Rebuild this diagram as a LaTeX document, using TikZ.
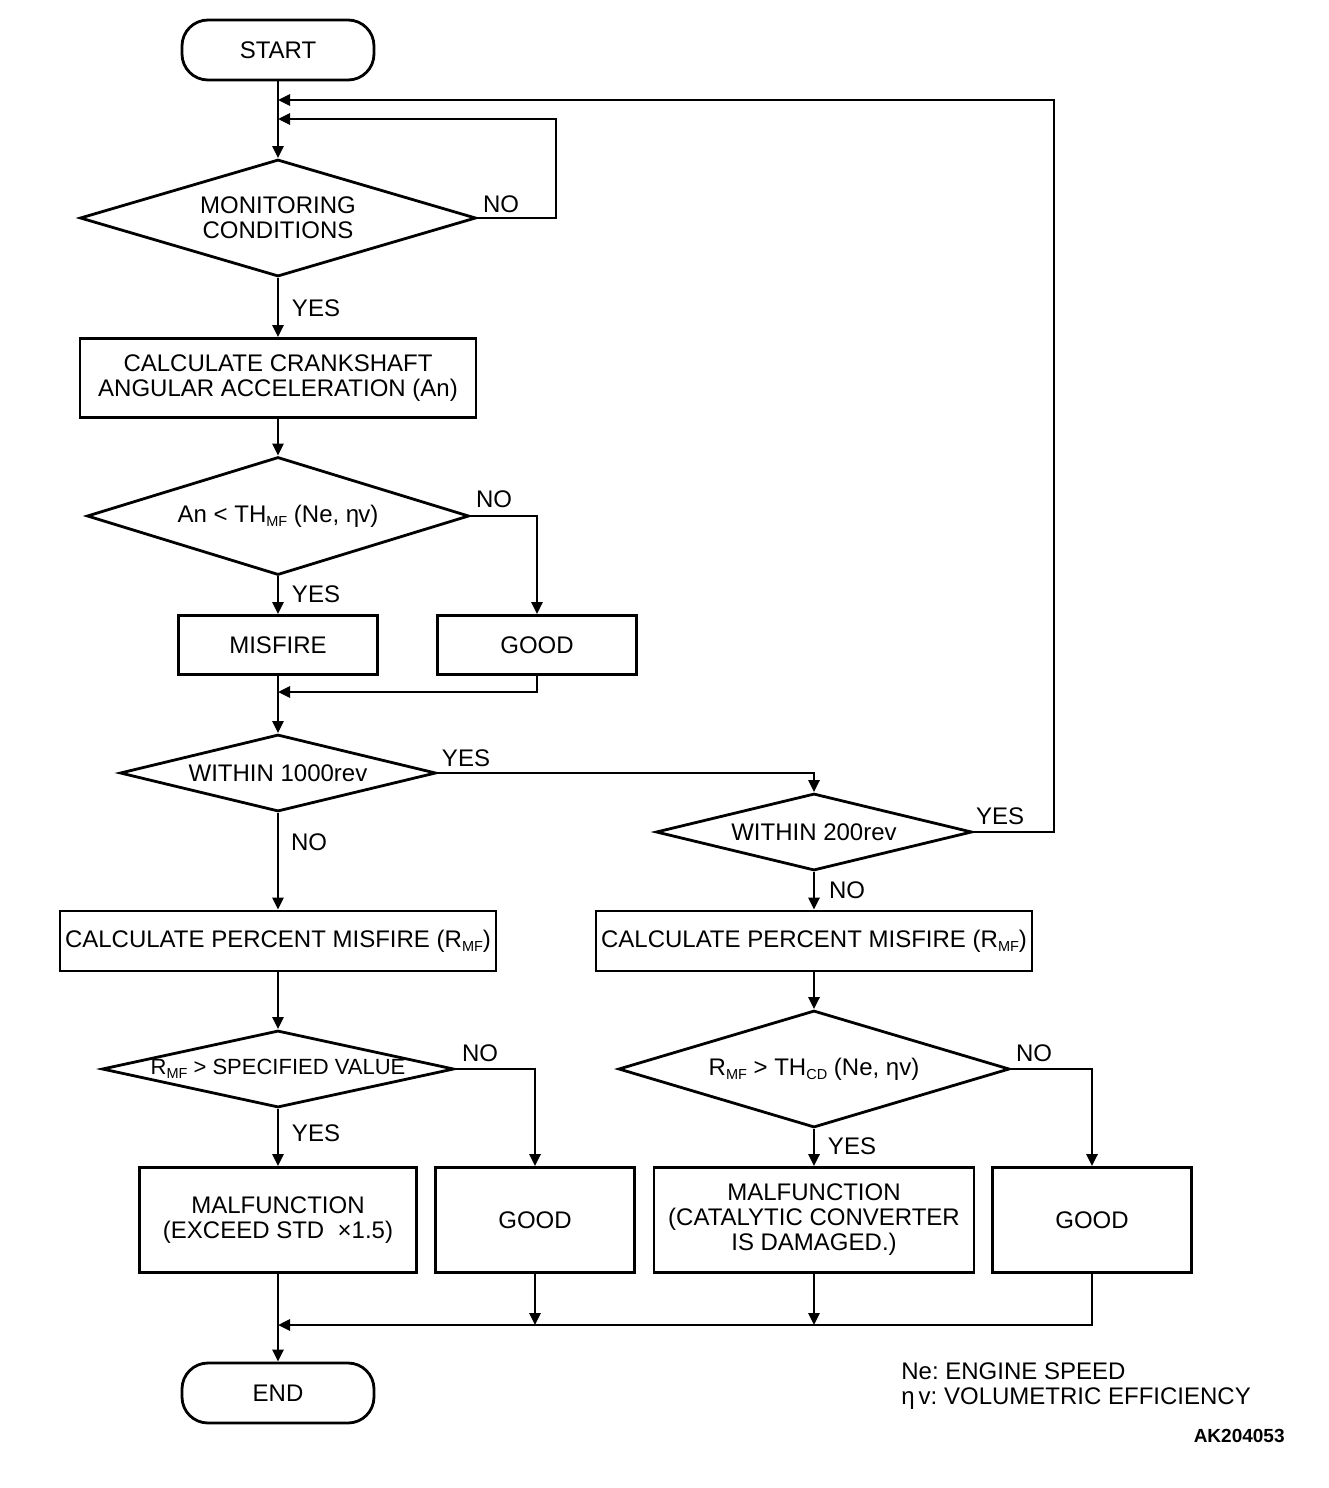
\documentclass[tikz,border=0pt]{standalone}
\usepackage{fontspec}
\setmainfont{Liberation Sans}
\usetikzlibrary{shapes.geometric,arrows.meta}
\newcommand{\lowtxt}[1]{\raisebox{-0.3ex}{\fontsize{14.5}{14.5}\selectfont #1}}
\tikzset{tm/.style = {rectangle, rounded corners=26pt, minimum width=192pt, minimum height=60pt, inner sep=0pt, draw},
           pr/.style = {rectangle, inner sep=0pt, align=center, draw},
           dc/.style = {diamond, inner sep=0pt, align=center, draw},
           lb/.style = {inner sep=0pt}}
\frenchspacing

\begin{document}
\begin{tikzpicture}[x=1pt, y=-1pt, line width=2.8pt, >={Triangle[length=12pt,width=11pt]},
                    font=\fontsize{24}{25}\selectfont]
    \useasboundingbox (0,0) rectangle (1328,1488);
    \node[tm] (start) at (278,50) {START};
    \node[dc, aspect=3.385, minimum width=396pt, minimum height=117pt] (mon) at (278,218) {MONITORING\\CONDITIONS};
    \node[pr, minimum width=396pt, minimum height=79pt] (calc) at (278,378) {CALCULATE CRANKSHAFT\\ANGULAR ACCELERATION (An)};
    \node[dc, aspect=3.237, minimum width=382pt, minimum height=118pt] (an) at (278,516) {An < TH\lowtxt{MF} (Ne, η\kern-1ptv)};
    \node[pr, minimum width=199pt, minimum height=59pt] (misf) at (278,645) {MISFIRE};
    \node[pr, minimum width=199pt, minimum height=59pt] (gooda) at (537,645) {GOOD};
    \node[dc, aspect=4.104, minimum width=316pt, minimum height=77pt] (wa) at (278,773) {WITHIN 1000rev};
    \node[dc, aspect=4.104, minimum width=316pt, minimum height=77pt] (wb) at (814,832) {WITHIN 200rev};
    \node[pr, minimum width=436pt, minimum height=60pt] (pcta) at (278,941) {CALCULATE PERCENT MISFIRE (R\lowtxt{MF})};
    \node[pr, minimum width=436pt, minimum height=60pt] (pctb) at (814,941) {CALCULATE PERCENT MISFIRE (R\lowtxt{MF})};
    \node[dc, aspect=4.571, inner xsep=-10pt, minimum width=352pt, minimum height=77pt,
          font=\fontsize{22}{24}\selectfont] (spec) at (278,1069) {R\lowtxt{MF} > SPECIFIED VALUE};
    \node[dc, aspect=3.342, minimum width=391pt, minimum height=117pt] (thcd) at (814,1069) {R\lowtxt{MF} > TH\lowtxt{CD} (Ne, ηv)};
    \node[pr, minimum width=277pt, minimum height=105pt] (malfa) at (278,1220) {MALFUNCTION\\(EXCEED STD~~×1.5)};
    \node[pr, minimum width=199pt, minimum height=105pt] (goodb) at (535,1220) {GOOD};
    \node[pr, minimum width=320pt, minimum height=105pt] (malfb) at (814,1220) {MALFUNCTION\\(CATALYTIC CONVERTER\\IS DAMAGED.)};
    \node[pr, minimum width=199pt, minimum height=105pt] (goodc) at (1092,1220) {GOOD};
    \node[tm] (end) at (278,1393) {END};
    % junctions
    \coordinate (ja) at (278,100); \coordinate (jb) at (278,119);
    \coordinate (jc) at (278,692); \coordinate (jd) at (278,1325);
    \coordinate (ra) at (1054,100); \coordinate (rb) at (556,119);
    \coordinate (ma) at (535,1325); \coordinate (mb) at (814,1325);
    % labels
    \node[lb] (no1) at (501,204) {NO};   \node[lb] (ye1) at (316,308) {YES};
    \node[lb] (no2) at (494,499) {NO};   \node[lb] (ye2) at (316,594) {YES};
    \node[lb] (ye3) at (466,758) {YES};  \node[lb] (ye4) at (1000,816) {YES};
    \node[lb] (no3) at (309,842) {NO};   \node[lb] (no4) at (847,890) {NO};
    \node[lb] (no5) at (480,1053) {NO};  \node[lb] (no6) at (1034,1053) {NO};
    \node[lb] (ye5) at (316,1133) {YES}; \node[lb] (ye6) at (852,1146) {YES};
    \node[lb, anchor=west, align=left] (key) at (900,1386) {Ne: ENGINE SPEED\\η\,v: VOLUMETRIC EFFICIENCY};
    \node[lb, anchor=east, font=\fontsize{19}{19}\selectfont\bfseries] (fig) at (1286,1436) {AK204053};
    % connectors
    \draw[->] (start) -- (mon);
    \draw[->] (mon.east) -| (rb) -- (jb);
    \draw[->] (wb.east) -| (ra) -- (ja);
    \draw[->] (mon) -- (calc);
    \draw[->] (calc) -- (an);
    \draw[->] (an) -- (misf);
    \draw[->] (an.east) -| (gooda.north);
    \draw[->] (gooda.south) |- (jc);
    \draw[->] (misf) -- (wa);
    \draw[->] (wa.east) -| (wb.north);
    \draw[->] (wa) -- (pcta);
    \draw[->] (wb) -- (pctb);
    \draw[->] (pcta) -- (spec);
    \draw[->] (pctb) -- (thcd);
    \draw[->] (spec) -- (malfa);
    \draw[->] (spec.east) -| (goodb.north);
    \draw[->] (thcd) -- (malfb);
    \draw[->] (thcd.east) -| (goodc.north);
    \draw[->] (malfa) -- (end);
    \draw[->] (goodb) -- (ma);
    \draw[->] (malfb) -- (mb);
    \draw[->] (goodc.south) |- (jd);
  \end{tikzpicture}
\end{document}
